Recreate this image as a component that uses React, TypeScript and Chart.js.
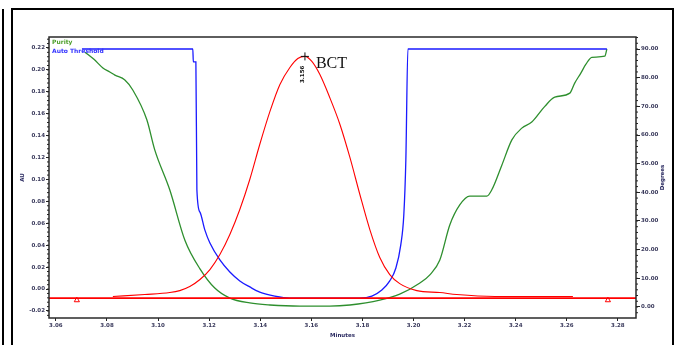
import { useEffect, useRef } from "react";
import { Chart, registerables } from "chart.js";
Chart.register(...registerables);

// ---- axis ticks ----
const minuteTicks = [3.06, 3.08, 3.1, 3.12, 3.14, 3.16, 3.18, 3.2, 3.22, 3.24, 3.26, 3.28];
const auTicks = [-0.02, 0.0, 0.02, 0.04, 0.06, 0.08, 0.1, 0.12, 0.14, 0.16, 0.18, 0.2, 0.22];
const degreeTicks = [0, 10, 20, 30, 40, 50, 60, 70, 80, 90];

const minuteRange = [3.0573, 3.2871];
const auRange = [-0.0264, 0.23];
const degreeRange = [-3.84, 94.19];

// ---- chromatogram (AU) ----
const chromTime = [3.0823, 3.0948, 3.1046, 3.1085, 3.1124, 3.1164, 3.1203, 3.1242, 3.1281, 3.132, 3.1359, 3.1398, 3.1438, 3.1477, 3.1516, 3.1547, 3.1575, 3.1602, 3.1633, 3.1672, 3.1712, 3.1751, 3.179, 3.1829, 3.1868, 3.1907, 3.1946, 3.2013, 3.2103, 3.2169, 3.2318, 3.2624];
const chromAU = [-0.0068, -0.005, -0.0032, -0.0014, 0.0023, 0.0087, 0.0178, 0.0315, 0.0498, 0.0726, 0.1, 0.1319, 0.1621, 0.1867, 0.2022, 0.2104, 0.2123, 0.2077, 0.1959, 0.1748, 0.1502, 0.1201, 0.0863, 0.0543, 0.0288, 0.0132, 0.005, -0.0014, -0.0032, -0.005, -0.0068, -0.0068];

// ---- purity angle (degrees) ----
const purityTime = [3.0714, 3.0749, 3.0784, 3.0811, 3.0831, 3.087, 3.0901, 3.0956, 3.0987, 3.1046, 3.1105, 3.1164, 3.1222, 3.1281, 3.1359, 3.1438, 3.1555, 3.1672, 3.1751, 3.1868, 3.1946, 3.2025, 3.2064, 3.2103, 3.2142, 3.2181, 3.222, 3.2287, 3.2306, 3.2345, 3.2385, 3.2424, 3.2463, 3.2514, 3.2553, 3.2612, 3.2631, 3.2655, 3.2675, 3.2698, 3.2749, 3.2757];
const purityDeg = [88.9, 86.4, 83.4, 82.0, 80.9, 79.2, 75.7, 65.3, 54.8, 40.8, 23.3, 13.3, 6.6, 3.1, 1.4, 0.7, 0.3, 0.3, 0.7, 2.4, 4.5, 8.4, 11.2, 16.4, 28.6, 35.6, 38.7, 38.7, 40.8, 49.3, 58.3, 62.4, 64.5, 70.0, 73.2, 74.6, 78.1, 81.6, 84.7, 87.1, 87.5, 90.0];

// ---- auto threshold (degrees) ----
const thresholdTime = [3.0702, 3.1136, 3.1138, 3.1148, 3.1152, 3.1164, 3.1183, 3.1203, 3.1242, 3.1281, 3.132, 3.1359, 3.1398, 3.1457, 3.1516, 3.179, 3.1837, 3.1876, 3.1907, 3.1931, 3.195, 3.1962, 3.197, 3.1978, 3.2757];
const thresholdDeg = [90.0, 90.0, 85.5, 85.5, 40.8, 33.1, 26.9, 22.3, 16.4, 12.2, 9.1, 7.0, 5.2, 3.8, 3.1, 3.1, 3.8, 5.9, 9.1, 13.6, 21.6, 32.1, 51.3, 90.0, 90.0];

// ---- baseline & markers ----
const baselineAU = -0.0082;
const triangleTime = [3.0682, 3.2761];
const triangleAU = [-0.0102, -0.0102];
const peakTime = [3.1575];
const peakAU = [0.2123];
const peakRetention = "3.156";
const peakName = "BCT";

const pts = (xs: number[], ys: number[]) => xs.map((x, i) => ({ x, y: ys[i] }));

const tickFont = { size: 5.5, weight: "bold" as const, family: "DejaVu Sans" };
const tickColor = "#3a3a5c";

function minorTicks(ctx: CanvasRenderingContext2D, scale: any, major: number[], sub: number, side: string) {
  const step = major[1] - major[0];
  const from = major[0] - step;
  const to = major[major.length - 1] + step;
  ctx.beginPath();
  for (let v = from; v <= to + 1e-9; v += step / sub) {
    if (v < scale.min || v > scale.max) continue;
    const p = scale.getPixelForValue(v);
    if (side === "left") { ctx.moveTo(scale.right, p); ctx.lineTo(scale.right - 2, p); }
    if (side === "right") { ctx.moveTo(scale.left, p); ctx.lineTo(scale.left + 2, p); }
    if (side === "bottom") { ctx.moveTo(p, scale.top); ctx.lineTo(p, scale.top + 1.5); }
  }
  ctx.stroke();
}

const decor = {
  id: "decor",
  afterDraw(chart: any) {
    const { ctx, chartArea: a, scales } = chart;
    ctx.save();
    ctx.strokeStyle = "#2a2a2a";
    ctx.lineWidth = 1.5;
    ctx.strokeRect(a.left, a.top, a.right - a.left, a.bottom - a.top);
    ctx.lineWidth = 1;
    ctx.strokeStyle = "#222";
    minorTicks(ctx, scales.y, auTicks, 5, "left");
    minorTicks(ctx, scales.y2, degreeTicks, 5, "right");

    // legend texts
    ctx.font = "bold 6px 'DejaVu Sans'";
    ctx.textBaseline = "middle";
    ctx.textAlign = "left";
    ctx.fillStyle = "#4c9e2a";
    ctx.fillText("Purity", a.left + 3, a.top + 5);
    ctx.fillStyle = "#3333ff";
    ctx.fillText("Auto Threshold", a.left + 3, a.top + 14);

    // axis titles
    ctx.fillStyle = "#2a2a60";
    ctx.font = "bold 5.5px 'DejaVu Sans'";
    ctx.textAlign = "center";
    ctx.fillText("Minutes", (a.left + a.right) / 2, a.bottom + 18);
    ctx.save();
    ctx.translate(a.left - 26, (a.top + a.bottom) / 2 + 0);
    ctx.rotate(-Math.PI / 2);
    ctx.fillText("AU", 0, 0);
    ctx.restore();
    ctx.save();
    ctx.translate(a.right + 27, (a.top + a.bottom) / 2);
    ctx.rotate(-Math.PI / 2);
    ctx.fillText("Degrees", 0, 0);
    ctx.restore();

    // peak labels
    const px = scales.x.getPixelForValue(peakTime[0]);
    const py = scales.y.getPixelForValue(peakAU[0]);
    ctx.save();
    ctx.fillStyle = "#111";
    ctx.font = "bold 5.5px 'DejaVu Sans'";
    ctx.translate(px - 2, py + 18);
    ctx.rotate(-Math.PI / 2);
    ctx.textAlign = "center";
    ctx.fillText(peakRetention, 0, 0);
    ctx.restore();
    ctx.fillStyle = "#111";
    ctx.font = "16px 'Liberation Serif'";
    ctx.textAlign = "left";
    ctx.textBaseline = "alphabetic";
    ctx.fillText(peakName, px + 11, py + 12);
    ctx.restore();
  },
};

export default function App() {
  const ref = useRef<HTMLCanvasElement>(null);
  useEffect(() => {
    if (!ref.current) return;
    const chart = new Chart(ref.current, {
      type: "line",
      data: {
        datasets: [
          {
            label: "Peak",
            data: pts(peakTime, peakAU),
            yAxisID: "y",
            showLine: false,
            pointStyle: "cross",
            pointRadius: 4,
            borderColor: "#111",
            borderWidth: 1,
          },
          {
            label: "Chromatogram",
            data: pts(chromTime, chromAU),
            yAxisID: "y",
            borderColor: "#ff0000",
            borderWidth: 1.1,
            pointRadius: 0,
            cubicInterpolationMode: "monotone",
          },
          {
            label: "Baseline",
            data: pts(minuteRange, [baselineAU, baselineAU]),
            yAxisID: "y",
            borderColor: "#ff0000",
            borderWidth: 1.8,
            pointRadius: 0,
          },
          {
            label: "Markers",
            data: pts(triangleTime, triangleAU),
            yAxisID: "y",
            showLine: false,
            pointStyle: "triangle",
            pointRadius: 3,
            borderColor: "#ff0000",
            backgroundColor: "rgba(255,255,255,0)",
            borderWidth: 1,
          },
          {
            label: "Auto Threshold",
            data: pts(thresholdTime, thresholdDeg),
            yAxisID: "y2",
            borderColor: "#1a1aff",
            borderWidth: 1.3,
            pointRadius: 0,
            cubicInterpolationMode: "monotone",
          },
          {
            label: "Purity",
            data: pts(purityTime, purityDeg),
            yAxisID: "y2",
            borderColor: "#2e8f2e",
            borderWidth: 1.3,
            pointRadius: 0,
            cubicInterpolationMode: "monotone",
          },
        ],
      },
      options: {
        animation: false,
        responsive: false,
        layout: { padding: { top: 37, left: 0, right: 0, bottom: 0 } },
        plugins: { legend: { display: false }, tooltip: { enabled: false } },
        scales: {
          x: {
            type: "linear",
            min: minuteRange[0],
            max: minuteRange[1],
            afterBuildTicks: (s: any) => { s.ticks = minuteTicks.map((v) => ({ value: v })); },
            afterFit: (s: any) => { s.height = 27; },
            grid: { drawOnChartArea: false, drawTicks: true, tickLength: 3, color: "#222" },
            border: { display: false },
            ticks: { font: tickFont, color: tickColor, padding: 1, maxRotation: 0, autoSkip: false, callback: (v: any) => Number(v).toFixed(2) },
          },
          y: {
            type: "linear",
            position: "left",
            min: auRange[0],
            max: auRange[1],
            afterBuildTicks: (s: any) => { s.ticks = auTicks.map((v) => ({ value: v })); },
            afterFit: (s: any) => { s.width = 49; },
            grid: { drawOnChartArea: false, drawTicks: true, tickLength: 3, color: "#222" },
            border: { display: false },
            ticks: { font: tickFont, color: tickColor, padding: 1, autoSkip: false, callback: (v: any) => Number(v).toFixed(2) },
          },
          y2: {
            type: "linear",
            position: "right",
            min: degreeRange[0],
            max: degreeRange[1],
            afterBuildTicks: (s: any) => { s.ticks = degreeTicks.map((v) => ({ value: v })); },
            afterFit: (s: any) => { s.width = 40; },
            grid: { drawOnChartArea: false, drawTicks: true, tickLength: 4, color: "#222" },
            border: { display: false },
            ticks: { font: tickFont, color: tickColor, padding: 1, autoSkip: false, callback: (v: any) => Number(v).toFixed(2) },
          },
        },
      },
      plugins: [decor],
    });
    return () => chart.destroy();
  }, []);

  return (
    <div style={{ position: "absolute", left: 0, top: 0, width: 676, height: 345, background: "#fff", overflow: "hidden" }}>
      <div style={{ position: "absolute", left: 2, top: 9, width: 2, height: 340, background: "#000" }} />
      <div style={{ position: "absolute", left: 11, top: 8, width: 659, height: 345, border: "2px solid #000", boxSizing: "content-box" }} />
      <canvas ref={ref} width={676} height={345} style={{ position: "absolute", left: 0, top: 0 }} />
    </div>
  );
}
